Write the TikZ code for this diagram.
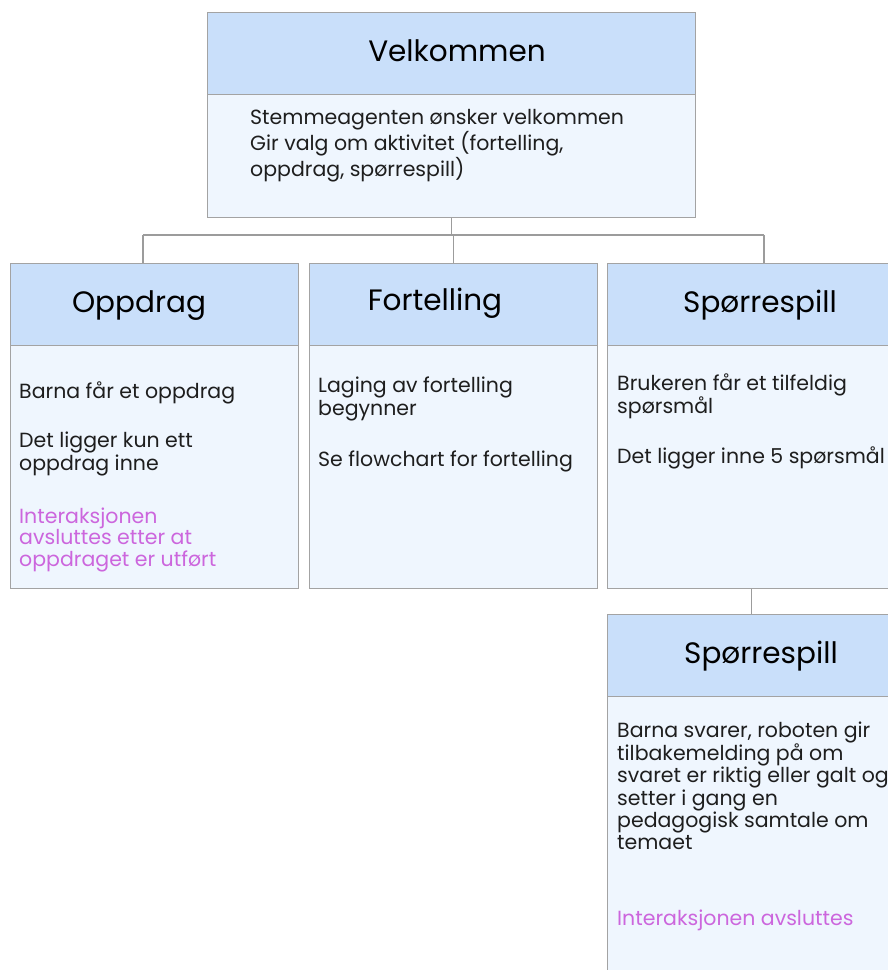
\documentclass[tikz,border=0pt]{standalone}
\usepackage{fontspec}
\setmainfont{Poppins}
\definecolor{hdrfill}{HTML}{C9DFFA}
\definecolor{bodyfill}{HTML}{EFF6FE}
\definecolor{edge}{HTML}{A3A3A3}
\definecolor{wire}{HTML}{9C9C9C}
\definecolor{ink}{HTML}{1E1E1E}
\definecolor{note}{HTML}{CC66DD}
% stacked lines whose baseline is the baseline of the first line
\newcommand\stackedlines[1]{\begin{tabular}[t]{@{}l@{}}#1\end{tabular}}
\tikzset{
  panel/.style={draw=edge, line width=1.2pt, anchor=north west, inner sep=0pt},
  hdr/.style={panel, fill=hdrfill, minimum height=82pt},
  bodybox/.style={panel, fill=bodyfill},
  title/.style={anchor=base, inner sep=0pt, text=black,
    font=\fontsize{29.5}{32}\selectfont},
  txt/.style={anchor=base west, inner sep=0pt, text=ink,
    font=\fontsize{20.5}{23.5}\selectfont},
  conn/.style={draw=wire, line width=1.4pt}
}
\begin{document}
\begin{tikzpicture}[x=1pt,y=-1pt]
\useasboundingbox (0,0) rectangle (888,970);
\clip (0,0) rectangle (888,970);

% top box
\node[hdr, minimum width=488pt] (velH) at (207,12) {};
\node[bodybox, minimum width=488pt, minimum height=123pt] (velB) at (207,94) {};
\node[title] (velN) at (457,61) {Velkommen};
\node[txt] (velT) at (250,124) {\stackedlines{Stemmeagenten ønsker velkommen\\Gir valg om aktivitet (fortelling,\\oppdrag, spørrespill)}};

% second row
\node[hdr, minimum width=288pt] (opH) at (10,263) {};
\node[bodybox, minimum width=288pt, minimum height=243pt] (opB) at (10,345) {};
\node[title] (opN) at (139,312) {Oppdrag};
\node[txt] (opT1) at (19,398) {Barna får et oppdrag};
\node[txt] (opT2) at (19,447) {\stackedlines{Det ligger kun ett\\oppdrag inne}};
\node[txt, text=note, font=\fontsize{20.5}{21.5}\selectfont] (opT3) at (19,523)
  {\stackedlines{Interaksjonen\\avsluttes etter at\\oppdraget er utført}};

\node[hdr, minimum width=288pt] (foH) at (309,263) {};
\node[bodybox, minimum width=288pt, minimum height=243pt] (foB) at (309,345) {};
\node[title] (foN) at (435,310) {Fortelling};
\node[txt] (foT1) at (318,392) {\stackedlines{Laging av fortelling\\begynner}};
\node[txt] (foT2) at (318,466) {Se flowchart for fortelling};

\node[hdr, minimum width=288pt] (spH) at (607,263) {};
\node[bodybox, minimum width=288pt, minimum height=243pt] (spB) at (607,345) {};
\node[title] (spN) at (760,312) {Spørrespill};
\node[txt] (spT1) at (617,390) {\stackedlines{Brukeren får et tilfeldig\\spørsmål}};
\node[txt] (spT2) at (617,463) {Det ligger inne 5 spørsmål};

% third row
\node[hdr, minimum width=288pt] (sqH) at (607,614) {};
\node[bodybox, minimum width=288pt, minimum height=300pt] (sqB) at (607,696) {};
\node[title] (sqN) at (761,663) {Spørrespill};
\node[txt, font=\fontsize{20.5}{22.3}\selectfont] (sqT1) at (617,737)
  {\stackedlines{Barna svarer, roboten gir\\tilbakemelding på om\\svaret er riktig eller galt og\\setter i gang en\\pedagogisk samtale om\\temaet}};
\node[txt, text=note] (sqT2) at (617,925) {Interaksjonen avsluttes};

% connectors
\coordinate (busL) at (143,235);
\coordinate (busR) at (764,235);
\draw[conn] (busL) -- (busR);
\draw[conn] (velB.south) -- (velB.south |- busL);
\draw[conn] (busL) -- (busL |- opH.north);
\draw[conn] (foH.north |- busL) -- (foH.north);
\draw[conn] (busR) -- (busR |- spH.north);
\draw[conn] (spB.south) -- (sqH.north);
\end{tikzpicture}
\end{document}
